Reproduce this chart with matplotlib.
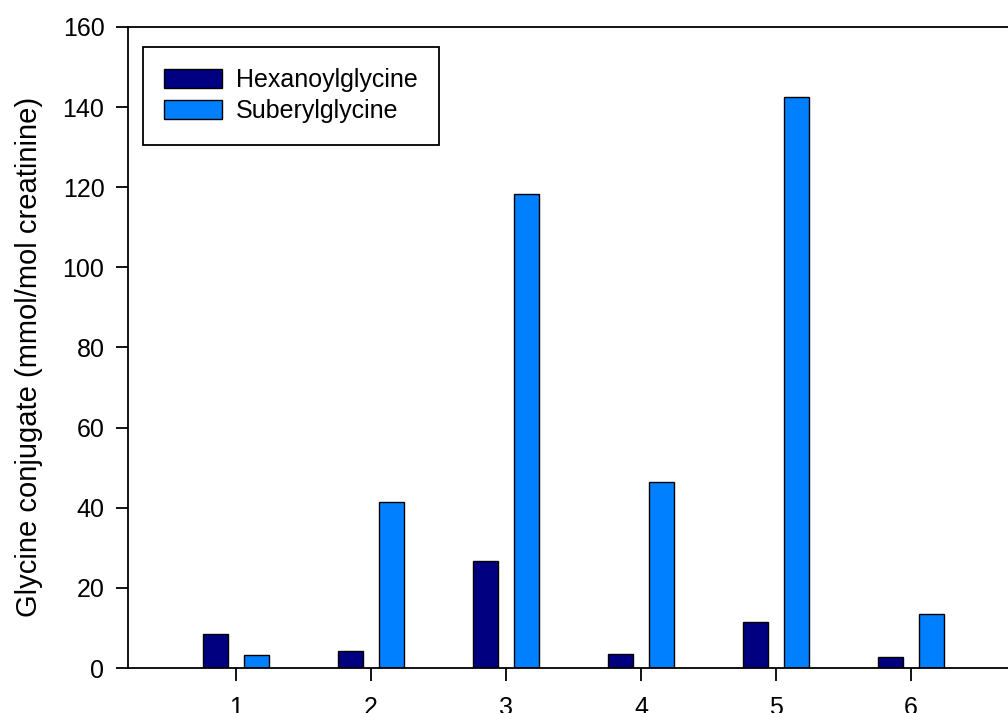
import numpy as np
import matplotlib.pyplot as plt

plt.rcParams['font.family'] = ['Liberation Sans', 'DejaVu Sans']

patients = [1, 2, 3, 4, 5, 6]
hexanoylglycine = [8.5, 4.2, 26.7, 3.4, 11.4, 2.7]
suberylglycine = [3.3, 41.4, 118.3, 46.4, 142.6, 13.6]

W, H = 1008, 713
fig = plt.figure(figsize=(W / 100, H / 100), dpi=100)
# plot area runs past the right edge of the figure
ax = fig.add_axes([128 / W, (H - 668) / H, (1019 - 128) / W, (668 - 27) / H])

x = np.array(patients)
bw = 0.185
ax.bar(x - 0.152, hexanoylglycine, bw, color='#000080', edgecolor='black',
       linewidth=1.0, label='Hexanoylglycine')
ax.bar(x + 0.152, suberylglycine, bw, color='#0080FF', edgecolor='black',
       linewidth=1.0, label='Suberylglycine')

ax.set_xlim(0.2, 6.8)
ax.set_ylim(0, 160)
ax.set_xticks(patients)
ax.set_yticks(np.arange(0, 161, 20))
ax.tick_params(direction='out', length=9, width=1.3, labelsize=18)
ax.tick_params(axis='x', pad=11)
ax.tick_params(axis='y', pad=8)
for s in ax.spines.values():
    s.set_linewidth(1.3)

ax.set_ylabel('Glycine conjugate (mmol/mol creatinine)', fontsize=21)
ax.yaxis.set_label_coords(43 / W, 0.5, transform=fig.transFigure)

leg = ax.legend(loc='upper left', bbox_to_anchor=(143 / W, (H - 47) / H),
                bbox_transform=fig.transFigure, fontsize=18, frameon=True,
                fancybox=False, edgecolor='black', framealpha=1,
                handlelength=2.32, handleheight=0.78, handletextpad=0.56,
                labelspacing=0.28, borderpad=0.85, borderaxespad=0)
leg.get_frame().set_linewidth(1.3)

fig.savefig('out.png', dpi=100)
